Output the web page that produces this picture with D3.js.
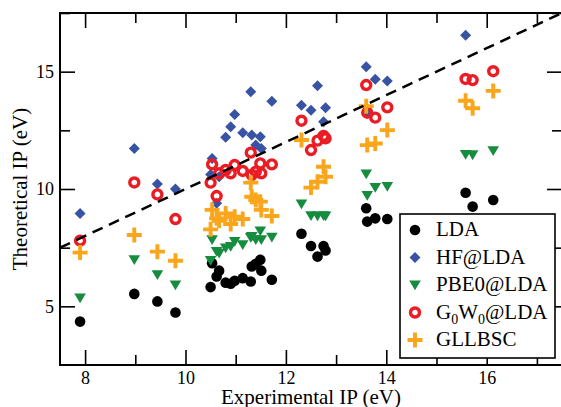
<!DOCTYPE html>
<html><head><meta charset="utf-8">
<script src="https://cdn.jsdelivr.net/npm/d3@7"></script>
<style>
body{margin:0;background:#fff}
svg{display:block}
text{font-family:"Liberation Serif","Times New Roman","DejaVu Serif",serif;fill:#000}
</style>
</head><body><svg width="561" height="407"></svg>
<script>
// Experimental IP (eV) of each molecule (x values)
const experimentalIP = [7.90, 8.98, 9.44, 9.80,
  10.50, 10.53, 10.62, 10.67, 10.80, 10.90, 10.98, 11.14, 11.30, 11.32, 11.40, 11.49, 11.51, 11.72,
  12.31, 12.50, 12.63, 12.75, 12.79,
  13.60, 13.62, 13.78, 14.02,
  15.58, 15.72, 16.13];
// Theoretical IP (eV) per method
const lda = [4.35, 5.53, 5.21, 4.74,
  5.82, 6.84, 6.27, 6.52, 6.01, 5.96, 6.09, 6.20, 6.06, 6.70, 6.81, 6.98, 6.52, 6.13,
  8.09, 7.57, 7.12, 7.57, 7.38,
  9.18, 8.61, 8.75, 8.72,
  9.84, 9.25, 9.53];
const hfAtLda = [8.96, 11.73, 10.21, 10.00,
  10.62, 11.30, 9.39, 10.52, 12.20, 12.65, 13.18, 12.40, 14.14, 12.30, 11.87, 12.23, 11.73, 13.74,
  13.57, 13.36, 14.40, 12.87, 13.46,
  15.21, 13.29, 14.68, 14.60,
  16.55, null, null];
const pbe0AtLda = [5.35, 6.98, 6.34, 5.91,
  6.95, 7.83, 7.33, 7.26, 7.48, 7.55, 7.76, 7.62, 7.93, 7.97, 7.83, 8.21, 7.83, 7.94,
  9.36, 8.86, 8.85, 8.86, 8.85,
  10.64, 9.72, 10.06, 10.10,
  11.47, 11.45, 11.63];
const g0w0AtLda = [7.80, 10.28, 9.77, 8.72,
  10.27, 11.05, 9.70, 10.67, 10.81, 10.67, 11.02, 10.77, 11.55, 10.60, 10.74, 11.09, 10.67, 11.05,
  12.91, 11.66, 12.06, 12.26, 12.16,
  14.43, 13.25, 13.04, 13.48,
  14.69, 14.64, 15.02];
const gllbsc = [7.29, 8.04, 7.33, 6.94,
  8.28, 9.11, 8.75, 8.65, 8.96, 8.51, 8.82, 8.72, 10.27, 9.67, 9.53, 9.46, 9.11, 8.85,
  12.09, 10.06, 10.31, 10.95, 10.52,
  13.53, 11.87, 11.94, 12.51,
  13.76, 13.44, 14.18];

const xMajorTicks = [8, 10, 12, 14, 16];
const xMinorTicks = [9, 11, 13, 15, 17];
const yMajorTicks = [5, 10, 15];
const yMinorTicks = [7.5, 12.5, 17.5];
const seriesNames = ["LDA", "HF@LDA", "PBE0@LDA", "G0W0@LDA", "GLLBSC"];
const seriesColors = ["#000000", "#3953a4", "#168c3e", "#ec1c24", "#f9a61c"];
const seriesShapes = ["circle", "diamond", "triangle", "ring", "plus"];
const seriesValues = [lda, hfAtLda, pbe0AtLda, g0w0AtLda, gllbsc];

const FONT = "'Liberation Serif','Times New Roman','DejaVu Serif',serif";
const svg = d3.select("svg");
const x = d3.scaleLinear().domain([7.5, 17.5]).range([60, 562]);
const y = d3.scaleLinear().domain([2.5, 17.5]).range([365, 13]);

function drawMarker(g, shape, color) {
  if (shape === "circle") {
    g.append("circle").attr("r", 5.3).attr("fill", color);
  } else if (shape === "diamond") {
    g.append("path").attr("d", "M0,-5.5L5.5,0L0,5.5L-5.5,0Z").attr("fill", color);
  } else if (shape === "triangle") {
    g.append("path").attr("d", "M-5.8,-4.6L5.8,-4.6L0,5.2Z").attr("fill", color);
  } else if (shape === "ring") {
    g.append("circle").attr("r", 4.5).attr("fill", "none").attr("stroke", color).attr("stroke-width", 3.4);
  } else if (shape === "plus") {
    g.append("path").attr("d", "M-7.5,0H7.5M0,-7.5V7.5").attr("stroke", color).attr("stroke-width", 3.9).attr("fill", "none");
  }
}

// axes (ticks inward on all four sides)
function styleAxis(g) {
  g.attr("font-family", FONT);
  g.select(".domain").remove();
  g.selectAll("line").attr("stroke", "#000").attr("stroke-width", 1.6);
  g.selectAll("text").style("font-size", "18px").style("font-family", FONT);
}
svg.append("g").attr("transform", `translate(0,${y(2.5)})`)
  .call(d3.axisBottom(x).tickValues(xMajorTicks).tickSize(-15).tickPadding(6).tickFormat(d3.format("d"))).call(styleAxis);
svg.append("g").attr("transform", `translate(0,${y(2.5)})`)
  .call(d3.axisBottom(x).tickValues(xMinorTicks).tickSize(-10).tickFormat("")).call(styleAxis);
svg.append("g").attr("transform", `translate(0,${y(17.5)})`)
  .call(d3.axisTop(x).tickValues(xMajorTicks).tickSize(-15).tickFormat("")).call(styleAxis);
svg.append("g").attr("transform", `translate(0,${y(17.5)})`)
  .call(d3.axisTop(x).tickValues(xMinorTicks).tickSize(-10).tickFormat("")).call(styleAxis);
svg.append("g").attr("transform", `translate(${x(7.5)},0)`)
  .call(d3.axisLeft(y).tickValues(yMajorTicks).tickSize(-15).tickPadding(6).tickFormat(d3.format("d"))).call(styleAxis);
svg.append("g").attr("transform", `translate(${x(7.5)},0)`)
  .call(d3.axisLeft(y).tickValues(yMinorTicks).tickSize(-10).tickFormat("")).call(styleAxis);
svg.append("g").attr("transform", `translate(${x(17.5)},0)`)
  .call(d3.axisRight(y).tickValues(yMajorTicks).tickSize(-15).tickFormat("")).call(styleAxis);
svg.append("g").attr("transform", `translate(${x(17.5)},0)`)
  .call(d3.axisRight(y).tickValues(yMinorTicks).tickSize(-10).tickFormat("")).call(styleAxis);

// frame
svg.append("rect").attr("x", x(7.5)).attr("y", y(17.5))
  .attr("width", x(17.5) - x(7.5)).attr("height", y(2.5) - y(17.5))
  .attr("fill", "none").attr("stroke", "#000").attr("stroke-width", 2);

// data
seriesValues.forEach((vals, si) => {
  const pts = experimentalIP.map((e, i) => [e, vals[i]]).filter(d => d[1] != null);
  const g = svg.append("g");
  pts.forEach(d => {
    const m = g.append("g").attr("transform", `translate(${x(d[0])},${y(d[1])})`);
    drawMarker(m, seriesShapes[si], seriesColors[si]);
  });
});

// y = x reference line
svg.append("line")
  .attr("x1", x(7.5)).attr("y1", y(7.5)).attr("x2", x(17.5)).attr("y2", y(17.5))
  .attr("stroke", "#000").attr("stroke-width", 2.5).attr("stroke-dasharray", "11,7");

// axis titles
svg.append("text").attr("x", (x(7.5) + x(17.5)) / 2).attr("y", 404)
  .attr("text-anchor", "middle").style("font-size", "21px").style("font-family", FONT)
  .text("Experimental IP (eV)");
svg.append("text").attr("transform", `translate(27,${(y(2.5) + y(17.5)) / 2}) rotate(-90)`)
  .attr("text-anchor", "middle").style("font-size", "21px").style("font-family", FONT)
  .text("Theoretical IP (eV)");

// legend
const lg = svg.append("g");
lg.append("rect").attr("x", 400).attr("y", 214).attr("width", 155).attr("height", 144)
  .attr("fill", "#fff").attr("stroke", "#000").attr("stroke-width", 1.6);
seriesNames.forEach((name, i) => {
  const cy = 230 + i * 27.5;
  const m = lg.append("g").attr("transform", `translate(415,${cy})`);
  drawMarker(m, seriesShapes[i], seriesColors[i]);
  const t = lg.append("text").attr("x", 436).attr("y", cy + 6)
    .style("font-size", "21px").style("font-family", FONT);
  if (name === "G0W0@LDA") {
    t.append("tspan").text("G");
    t.append("tspan").attr("dy", 5).style("font-size", "14px").text("0");
    t.append("tspan").attr("dy", -5).text("W");
    t.append("tspan").attr("dy", 5).style("font-size", "14px").text("0");
    t.append("tspan").attr("dy", -5).text("@LDA");
  } else {
    t.text(name);
  }
});
</script>
</body></html>
